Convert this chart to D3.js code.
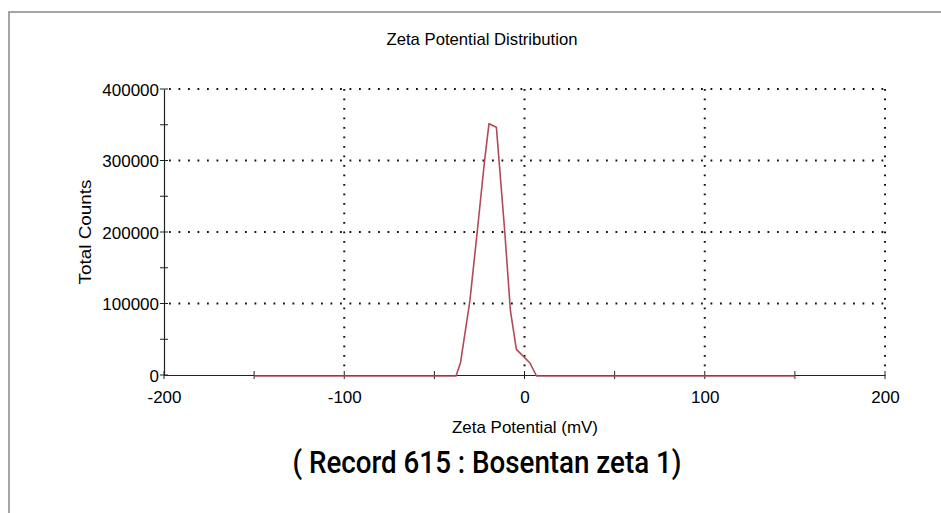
<!DOCTYPE html>
<html>
<head>
<meta charset="utf-8">
<script src="https://cdn.jsdelivr.net/npm/d3@7"></script>
<style>
  body { margin: 0; background: #fff; }
  svg { display: block; }
</style>
</head>
<body>
<div id="chart"></div>
<script>
// Zeta potential (mV) and total counts
const zeta = [-150, -38, -35.5, -30.3, -26.3, -22.2, -19.7, -15.6, -10.9, -7.8, -4.5, 2.9, 6.7, 150];
const counts = [0, 0, 18600, 105000, 200000, 300000, 352900, 348000, 200000, 91000, 37300, 18600, 0, 0];

const xMajor = [-200, -100, 0, 100, 200];
const xMinor = [-150, -50, 50, 150];
const yMajor = [0, 100000, 200000, 300000, 400000];
const yMinor = [50000, 150000, 250000, 350000];

const width = 941, height = 513;
const margin = { left: 164, right: 56, top: 89, bottom: 138 };

const svg = d3.select('#chart').append('svg')
  .attr('width', width).attr('height', height);

// outer frame (only top and left edges visible in the screenshot)
svg.append('path')
  .attr('d', `M9,${height} L9,12 L${width},12`)
  .attr('fill', 'none').attr('stroke', '#888').attr('stroke-width', 1.5);

const x = d3.scaleLinear().domain([-200, 200]).range([margin.left, width - margin.right]);
const y = d3.scaleLinear().domain([0, 400000]).range([height - margin.bottom, margin.top]);

const font = "'Liberation Sans', Arial, Helvetica, sans-serif";

// title
svg.append('text')
  .attr('x', 482).attr('y', 45)
  .attr('text-anchor', 'middle')
  .attr('font-family', font).attr('font-size', '17px')
  .attr('textLength', 191).attr('lengthAdjust', 'spacingAndGlyphs')
  .attr('fill', '#000')
  .text('Zeta Potential Distribution');

// dotted grid
const grid = svg.append('g')
  .attr('stroke', '#111').attr('stroke-width', 2)
  .attr('stroke-dasharray', '1.8,7.7').attr('stroke-linecap', 'butt');

yMajor.filter(d => d > 0).forEach(d => {
  grid.append('line')
    .attr('x1', x(-200) + 5).attr('x2', x(200))
    .attr('y1', y(d)).attr('y2', y(d));
});
xMajor.filter(d => d > -200).forEach(d => {
  grid.append('line')
    .attr('x1', x(d)).attr('x2', x(d))
    .attr('y1', y(400000)).attr('y2', y(0) - 5);
});

// axes
const xAxis = svg.append('g')
  .attr('transform', `translate(0,${y(0)})`)
  .call(d3.axisBottom(x).tickValues(xMajor).tickSize(0).tickPadding(16)
    .tickFormat(d => String(d)));
const yAxis = svg.append('g')
  .attr('transform', `translate(${x(-200)},0)`)
  .call(d3.axisLeft(y).tickValues(yMajor).tickSize(0).tickPadding(5)
    .tickFormat(d => String(d)));

[xAxis, yAxis].forEach(a => {
  a.select('.domain').attr('stroke', '#222').attr('stroke-width', 1.2);
  a.selectAll('text').attr('font-family', font).attr('font-size', '17px').attr('fill', '#000');
});
yAxis.selectAll('text').attr('dy', '0.36em');

// ticks crossing the axes
const tk = svg.append('g').attr('stroke', '#222').attr('stroke-width', 1);
xMajor.concat(xMinor).forEach(d => {
  tk.append('line').attr('x1', x(d)).attr('x2', x(d))
    .attr('y1', y(0) - 4).attr('y2', y(0) + 4);
});
yMajor.concat(yMinor).forEach(d => {
  tk.append('line').attr('x1', x(-200) - 4).attr('x2', x(-200) + 4)
    .attr('y1', y(d)).attr('y2', y(d));
});

// axis labels
svg.append('text')
  .attr('x', 525).attr('y', 433)
  .attr('text-anchor', 'middle')
  .attr('font-family', font).attr('font-size', '17px').attr('fill', '#000')
  .attr('textLength', 146).attr('lengthAdjust', 'spacingAndGlyphs')
  .text('Zeta Potential (mV)');

svg.append('text')
  .attr('transform', `translate(91,232) rotate(-90)`)
  .attr('text-anchor', 'middle')
  .attr('font-family', font).attr('font-size', '17px').attr('fill', '#000')
  .attr('textLength', 105).attr('lengthAdjust', 'spacingAndGlyphs')
  .text('Total Counts');

// distribution curve
const pts = zeta.map((z, i) => [z, counts[i]]);
svg.append('path')
  .datum(pts)
  .attr('d', d3.line().x(d => x(d[0])).y(d => y(d[1]) + 1))
  .attr('fill', 'none')
  .attr('stroke', '#b24a58').attr('stroke-width', 1.6)
  .attr('stroke-linejoin', 'round');

// caption
svg.append('text')
  .attr('x', 487).attr('y', 473)
  .attr('text-anchor', 'middle')
  .attr('font-family', 'Roboto, sans-serif').attr('font-size', '32px')
  .attr('font-weight', 500)
  .attr('textLength', 389).attr('lengthAdjust', 'spacingAndGlyphs')
  .attr('fill', '#000')
  .text('( Record 615 : Bosentan zeta 1)');
</script>
</body>
</html>
